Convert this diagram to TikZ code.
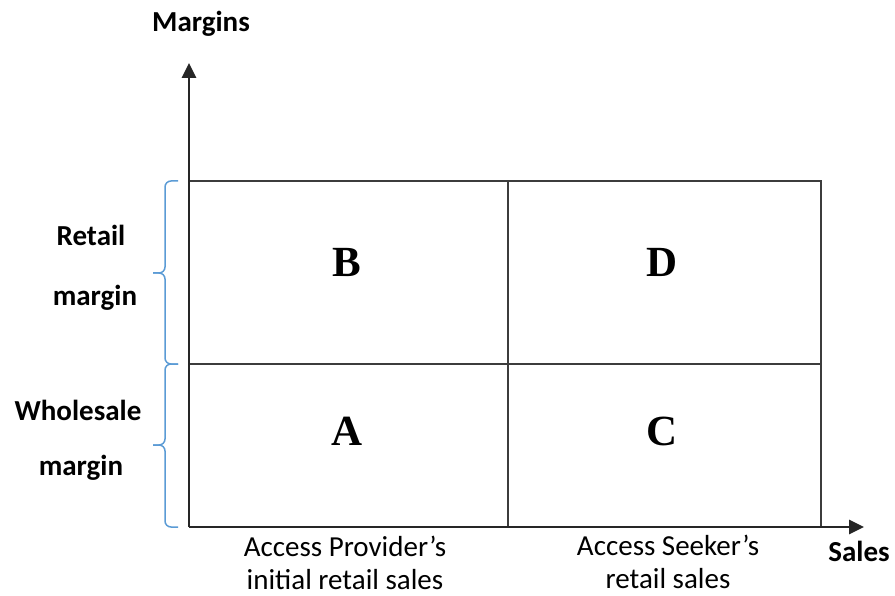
\documentclass[tikz,border=0pt]{standalone}
\usepackage{fontspec}
\setmainfont{Carlito}
\newfontfamily\tnr{Liberation Serif}
\usetikzlibrary{arrows.meta}
\definecolor{bracecol}{RGB}{91,155,213}
\definecolor{gridcol}{RGB}{60,60,60}
\begin{document}
\begin{tikzpicture}[x=1pt,y=-1pt,
  lbl/.style={font=\fontsize{29}{33}\selectfont\bfseries, inner sep=0pt},
  sublbl/.style={font=\fontsize{29}{33}\selectfont, inner sep=0pt, align=center},
  cell/.style={font=\fontsize{43}{45}\selectfont\tnr\bfseries, inner sep=0pt},
  axis/.style={line width=2.6pt, draw=black!85, -{Triangle[length=15pt,width=14pt]}},
  gridline/.style={line width=1.8pt, draw=gridcol},
  bracestyle/.style={line width=1.5pt, draw=bracecol, rounded corners=6pt}]
\useasboundingbox (0,0) rectangle (895,596);
% coordinates
\coordinate (O) at (189,527);
\coordinate (Ytip) at (189,63);
\coordinate (Xtip) at (864,527);
\coordinate (TL) at (189,181);
\coordinate (TR) at (821,181);
\coordinate (BR) at (821,527);
\coordinate (ML) at (189,364);
\coordinate (MR) at (821,364);
\coordinate (TM) at (508,181);
\coordinate (BM) at (508,527);
% grid
\draw[gridline] (TL) -- (TR) -- (BR);
\draw[gridline] (ML) -- (MR);
\draw[gridline] (TM) -- (BM);
% axes
\draw[axis] (O) -- (Ytip);
\draw[axis] (O) -- (Xtip);
% braces
\draw[bracestyle] (178,181) -- (165,181) -- (165,273) -- (153,273);
\draw[bracestyle] (153,273) -- (165,273) -- (165,364) -- (178,364);
\draw[bracestyle] (178,364) -- (165,364) -- (165,445) -- (153,445);
\draw[bracestyle] (153,445) -- (165,445) -- (165,527) -- (178,527);
% labels
\node[lbl] (margins) at (201,24) {Margins};
\node[lbl] (sales) at (859,551) {Sales};
\node[lbl] (retail) at (91,235) {Retail};
\node[lbl] (rmargin) at (95,298) {margin};
\node[lbl] (whole) at (78,410) {Wholesale};
\node[lbl] (wmargin) at (81,468) {margin};
\node[sublbl] (ap) at (345,563) {Access Provider’s\\initial retail sales};
\node[sublbl] (as) at (668,562) {Access Seeker’s\\retail sales};
% cells
\node[cell] (B) at (347,262) {B};
\node[cell] (D) at (662,262) {D};
\node[cell] (A) at (347,431) {A};
\node[cell] (C) at (662,431) {C};
\end{tikzpicture}
\end{document}
